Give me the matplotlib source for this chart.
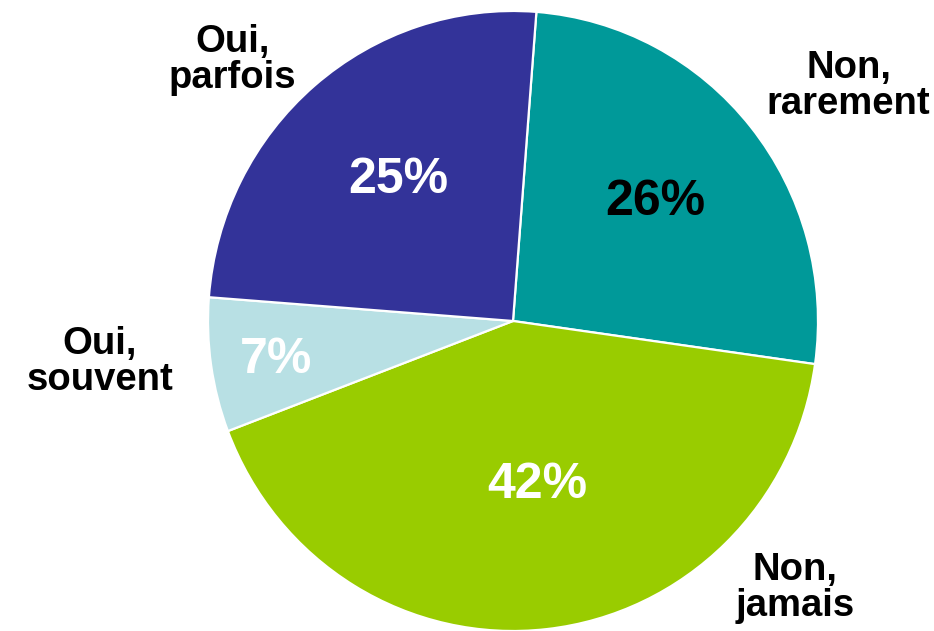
import matplotlib
matplotlib.use("Agg")
import matplotlib.pyplot as plt

categories = ["Non,\nrarement", "Non,\njamais", "Oui,\nsouvent", "Oui,\nparfois"]
values = [26, 42, 7, 25]
pct_labels = ["26%", "42%", "7%", "25%"]
colors = ["#009999", "#99CC00", "#B8E0E4", "#333399"]
pct_colors = ["black", "white", "white", "white"]

plt.rcParams['font.family'] = ['Liberation Sans', 'DejaVu Sans']

fig = plt.figure(figsize=(9.34, 6.31), dpi=100)
ax = fig.add_axes([0.2227, 0.0, 0.6531, 0.9826])
wedges, _ = ax.pie(values, colors=colors, startangle=85.6, counterclock=False,
                   wedgeprops=dict(edgecolor="white", linewidth=1.6), radius=1)
ax.set_xlim(-1, 1)
ax.set_ylim(-1, 1)
ax.set_aspect("auto")
ax.axis("off")

pct_pos = [(0.466, 0.384), (0.079, -0.529), (-0.777, -0.126), (-0.377, 0.455)]
lab_pos = [(1.100, 0.758), (0.925, -0.861), (-1.354, -0.132), (-0.921, 0.842)]

for t, c, (x, y) in zip(pct_labels, pct_colors, pct_pos):
    ax.text(x, y, t, color=c, fontsize=36, fontweight="bold", ha="center", va="center")
for t, (x, y) in zip(categories, lab_pos):
    ax.text(x, y, t, color="black", fontsize=27.5, fontweight="bold", ha="center", va="center",
            linespacing=1.0, clip_on=False)

fig.savefig("out.png", dpi=100)
